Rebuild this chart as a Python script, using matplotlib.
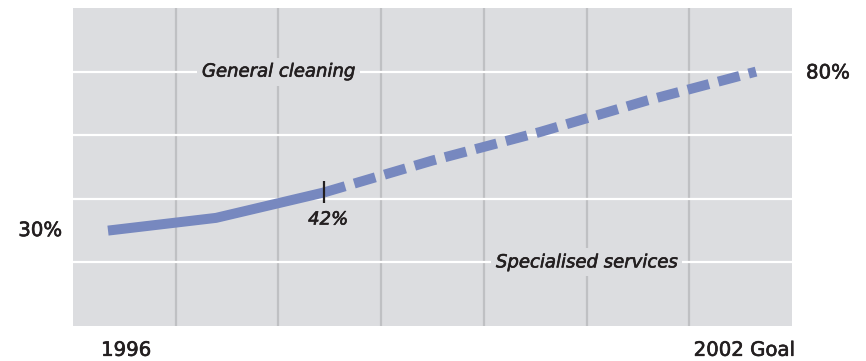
import matplotlib
matplotlib.use("Agg")
import matplotlib.pyplot as plt
import matplotlib.patheffects as pe
import numpy as np

# Share of turnover: measured to 1998, target path to 2002
years_actual = [1996, 1997, 1998]
share_actual = [30, 34, 42]
years_target = [1998, 1999, 2000, 2001, 2002]
share_target = [42, 52, 61, 71, 80]

start_label = "1996"
end_label = "2002 Goal"
upper_area = "General cleaning"
lower_area = "Specialised services"

DPI = 100
W, H = 866, 361
PANEL = "#dcdde0"
VGRID = "#bfc0c3"
LINE = "#7788bf"
TEXT = "#231f20"

fig = plt.figure(figsize=(W / DPI, H / DPI), dpi=DPI)
ax = fig.add_axes([73 / W, (H - 326) / H, (792 - 73) / W, (326 - 8) / H])
ax.set_facecolor(PANEL)

xmin, xmax = 1995.676, 2002.333
ax.set_xlim(xmin, xmax)
ax.set_ylim(0, 100)
for s in ax.spines.values():
    s.set_visible(False)
ax.set_xticks([])
ax.set_yticks([])

# grid: seven columns, five rows
vcols = np.linspace(xmin, xmax, 8)[1:-1]
for xv in vcols:
    ax.axvline(xv, color=VGRID, lw=1.6, zorder=1)
for yv in [20, 40, 60, 80]:
    ax.axhline(yv, color="white", lw=1.6, zorder=1.5)

lw = 7.2
ax.plot(years_actual, share_actual, color=LINE, lw=lw, solid_capstyle="butt",
        solid_joinstyle="round", zorder=3)
ax.plot(years_target, share_target, color=LINE, lw=lw, dash_capstyle="butt",
        linestyle=(0, (2.2, 0.95)), zorder=3)

# heavier text strokes
heavy = [pe.withStroke(linewidth=0.45, foreground=TEXT)]

# marker at the last measured value
ax.plot([years_actual[-1]], [share_actual[-1]], marker="|", markersize=16,
        mew=1.6, color=TEXT, zorder=4)
ax.annotate(f"{share_actual[-1]}%", xy=(years_actual[-1], share_actual[-1]),
            xytext=(3, -19.5), textcoords="offset points", ha="center",
            va="center", fontsize=13, style="italic", color=TEXT,
            path_effects=heavy)

lab_kw = dict(fontsize=14.2, color=TEXT, annotation_clip=False,
              path_effects=heavy)
ax.annotate(f"{share_actual[0]}%", xy=(years_actual[0], share_actual[0]),
            xytext=(-33, 0), textcoords="offset points", ha="right",
            va="center", **lab_kw)
ax.annotate(f"{share_target[-1]}%", xy=(years_target[-1], share_target[-1]),
            xytext=(36, -1), textcoords="offset points", ha="left",
            va="center", **lab_kw)
ax.annotate(start_label, xy=(years_actual[0], 0),
            xycoords=("data", "axes fraction"), xytext=(-5, -17.5),
            textcoords="offset points", ha="left", va="center", **lab_kw)
ax.annotate(end_label, xy=(1, 0), xycoords="axes fraction",
            xytext=(2, -17.5), textcoords="offset points", ha="right",
            va="center", **lab_kw)

box = dict(boxstyle="square,pad=0.28", fc=PANEL, ec="none")
ax.text(vcols[1], 80, upper_area, ha="center", va="center", fontsize=13,
        style="italic", color=TEXT, bbox=box, zorder=2, path_effects=heavy)
ax.text(vcols[4], 20, lower_area, ha="center", va="center", fontsize=13,
        style="italic", color=TEXT, bbox=box, zorder=2, path_effects=heavy)

fig.savefig("out.png", dpi=DPI, facecolor="white")
